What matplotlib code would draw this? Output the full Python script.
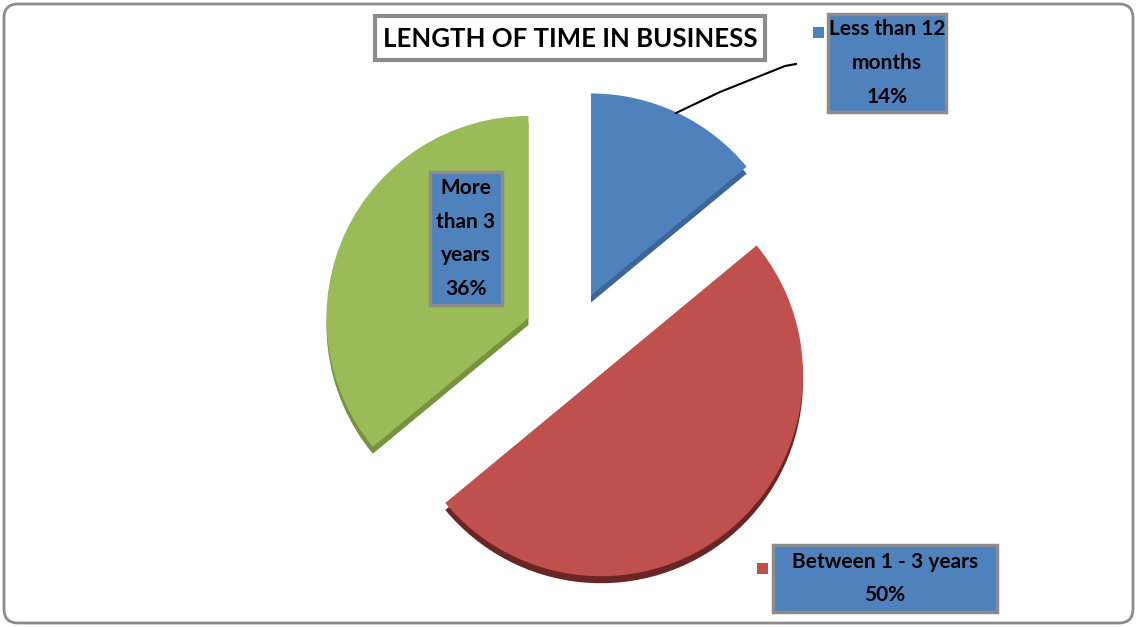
import matplotlib.pyplot as plt
from matplotlib.patches import FancyBboxPatch, Rectangle

plt.rcParams['font.family'] = ['Lato', 'DejaVu Sans']

# share of businesses by how long they have been trading
categories = ["Less than 12\nmonths", "Between 1 - 3 years", "More\nthan 3\nyears"]
shares = [14, 50, 36]
colors = ["#4F81BD", "#C0504D", "#9BBB59"]
side_colors = ["#3C6699", "#6A2624", "#77923F"]

W, H = 1137, 627
fig = plt.figure(figsize=(W / 100, H / 100), dpi=100)
ax = fig.add_axes([0, 0, 1, 1])

cx, cy, r = 571, H - 338, 202
boom = [47, 47, 47]

# darker copy a few pixels lower gives the slices some thickness
ax.pie(shares, colors=side_colors, startangle=90, counterclock=False,
       center=(cx, cy - 7), radius=r, explode=boom,
       wedgeprops=dict(linewidth=0))
wedges, _ = ax.pie(shares, colors=colors, startangle=90, counterclock=False,
                   center=(cx, cy), radius=r, explode=boom,
                   wedgeprops=dict(linewidth=0))

ax.set_xlim(0, W)
ax.set_ylim(0, H)
ax.set_aspect('equal')
ax.axis('off')

# outer frame
ax.add_patch(FancyBboxPatch((4, 4), W - 8, H - 8, boxstyle="round,pad=0,rounding_size=14",
                            fill=False, edgecolor="#8C8C8C", linewidth=2))

# title box
ax.add_patch(Rectangle((375, H - 60), 390, 44, facecolor='white', edgecolor='#8C8C8C', linewidth=3))
ax.text(570, H - 39, "LENGTH OF TIME IN BUSINESS", ha='center', va='center',
        fontsize=18.5, fontweight='bold', color='black')

# data label boxes (left, top, right, bottom in pixels) and legend keys
boxes = [(828, 14, 946, 112), (773, 545, 997, 612), (430, 172, 502, 305)]
key_xy = [(818, 32), (762, 568), (421, 193)]
for cat, val, col, (x0, y0, x1, y1), (kx, ky) in zip(categories, shares, colors, boxes, key_xy):
    ax.add_patch(Rectangle((x0, H - y1), x1 - x0, y1 - y0, facecolor='#4F81BD',
                           edgecolor='#8C8C8C', linewidth=2.5))
    ax.text((x0 + x1) / 2, H - (y0 + y1) / 2, f"{cat}\n{val}%", ha='center', va='center',
            fontsize=15, fontweight='bold', color='black', linespacing=1.85)
    ax.add_patch(Rectangle((kx - 5.5, H - ky - 5.5), 11, 11, facecolor=col, edgecolor='none'))

# leader line from the blue slice to its label
ax.plot([676, 720, 785, 796], [H - 113, H - 92, H - 66, H - 64], color='black', linewidth=1.5)

fig.savefig("out.png", dpi=100)
